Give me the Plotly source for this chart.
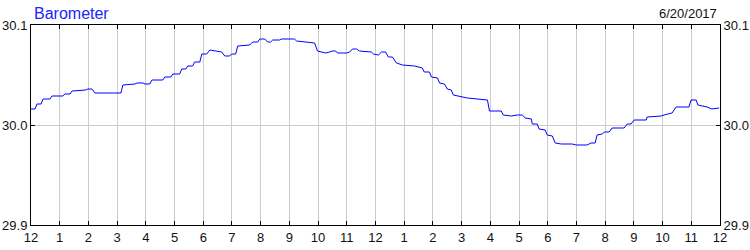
import plotly.graph_objects as go

# hours since midnight (0..24) and barometric pressure (inHg)
hours = [0, 0.14, 0.21, 0.35, 0.42, 0.66, 0.73, 1.11, 1.18, 1.36, 1.43, 1.91, 1.98, 2.12, 2.23,
         3.13, 3.20, 3.62, 3.69, 3.90, 3.97, 4.14, 4.21, 4.59, 4.66, 4.87, 4.94, 5.18, 5.25,
         5.39, 5.46, 5.63, 5.70, 5.88, 5.95, 6.12, 6.23, 6.50, 6.64, 6.75, 6.92, 6.99, 7.13,
         7.20, 7.62, 7.72, 7.90, 7.97, 8.14, 8.24, 8.35, 8.42, 8.66, 8.73, 9.18, 9.25, 9.63,
         9.88, 9.98, 10.12, 10.26, 10.40, 10.50, 10.61, 10.68, 10.99, 11.10, 11.20, 11.34,
         11.44, 11.86, 11.93, 12.10, 12.21, 12.35, 12.45, 12.59, 12.73, 12.94, 13.36, 13.63,
         13.70, 13.88, 13.95, 14.16, 14.23, 14.40, 14.50, 14.64, 14.71, 14.89, 15.20, 15.90,
         15.97, 16.38, 16.45, 16.73, 16.94, 17.11, 17.22, 17.43, 17.46, 17.63, 17.70, 17.91,
         17.98, 18.16, 18.26, 18.47, 18.85, 18.99, 19.37, 19.51, 19.65, 19.72, 19.90, 19.97,
         20.14, 20.24, 20.66, 20.77, 20.90, 21.01, 21.43, 21.46, 21.95, 22.05, 22.33, 22.47,
         22.92, 22.99, 23.17, 23.23, 23.44, 23.55, 23.72, 23.97]
pressure = [30.016, 30.016, 30.021, 30.021, 30.026, 30.026, 30.029, 30.029, 30.031, 30.031,
            30.034, 30.035, 30.036, 30.036, 30.032, 30.032, 30.040, 30.041, 30.042, 30.042,
            30.041, 30.041, 30.045, 30.045, 30.048, 30.048, 30.051, 30.051, 30.056, 30.056,
            30.059, 30.059, 30.063, 30.063, 30.071, 30.071, 30.075, 30.074, 30.073, 30.069,
            30.069, 30.071, 30.071, 30.079, 30.080, 30.083, 30.083, 30.086, 30.086, 30.083,
            30.083, 30.085, 30.085, 30.086, 30.086, 30.084, 30.083, 30.082, 30.074, 30.073,
            30.072, 30.073, 30.074, 30.074, 30.072, 30.072, 30.073, 30.076, 30.076, 30.074,
            30.073, 30.071, 30.070, 30.073, 30.073, 30.068, 30.068, 30.062, 30.060, 30.059,
            30.057, 30.053, 30.053, 30.048, 30.047, 30.042, 30.041, 30.036, 30.035, 30.030,
            30.029, 30.027, 30.025, 30.014, 30.014, 30.010, 30.009, 30.010, 30.010, 30.007,
            30.006, 30.001, 30.001, 29.996, 29.995, 29.990, 29.989, 29.982, 29.981, 29.981,
            29.980, 29.980, 29.982, 29.982, 29.990, 29.991, 29.993, 29.993, 29.997, 29.997,
            30.001, 30.001, 30.005, 30.005, 30.008, 30.009, 30.010, 30.012, 30.018, 30.018,
            30.025, 30.025, 30.020, 30.019, 30.018, 30.016, 30.017]

x_tickvals = list(range(25))
x_ticktext = ["12", "1", "2", "3", "4", "5", "6", "7", "8", "9", "10", "11",
              "12", "1", "2", "3", "4", "5", "6", "7", "8", "9", "10", "11", "12"]
y_tickvals = [29.9, 30.0, 30.1]
y_ticktext = ["29.9", "30.0", "30.1"]
title_text = "Barometer"
date_text = "6/20/2017"

FONT = "Liberation Sans, Arial, sans-serif"
TXT = "#111111"

fig = go.Figure()
fig.add_trace(go.Scatter(x=hours, y=pressure, mode="lines",
                         line=dict(color="#0000ff", width=1), hoverinfo="skip",
                         showlegend=False))
fig.add_trace(go.Scatter(x=[hours[0]], y=[pressure[0]], yaxis="y2", mode="markers",
                         marker=dict(opacity=0), hoverinfo="skip", showlegend=False))

axis_common = dict(showline=True, linecolor="black", linewidth=1,
                   ticks="inside", ticklen=4, tickcolor="black", tickwidth=1,
                   zeroline=False, automargin=False,
                   tickfont=dict(family=FONT, size=13, color=TXT))

fig.update_layout(
    width=750, height=250,
    margin=dict(l=31, r=30, t=25, b=25, pad=0),
    paper_bgcolor="white", plot_bgcolor="white",
    xaxis=dict(range=[0, 24], tickvals=x_tickvals, ticktext=x_ticktext,
               showgrid=True, gridcolor="#cccccc", gridwidth=1, mirror="ticks",
               **axis_common),
    yaxis=dict(range=[29.9, 30.1], tickvals=y_tickvals, ticktext=y_ticktext,
               showgrid=True, gridcolor="#cccccc", gridwidth=1, mirror=True,
               **axis_common),
    yaxis2=dict(range=[29.9, 30.1], tickvals=y_tickvals, ticktext=y_ticktext,
                overlaying="y", side="right", showgrid=False, **axis_common),
    annotations=[
        dict(text=title_text, xref="paper", yref="paper", x=0, y=1,
             xanchor="left", yanchor="bottom", xshift=1, yshift=1, showarrow=False,
             font=dict(family=FONT, size=16, color="#2222ff")),
        dict(text=date_text, xref="paper", yref="paper", x=1, y=1,
             xanchor="right", yanchor="bottom", xshift=-1, yshift=2, showarrow=False,
             font=dict(family=FONT, size=13, color=TXT)),
    ],
)

fig.write_html("out.html")
